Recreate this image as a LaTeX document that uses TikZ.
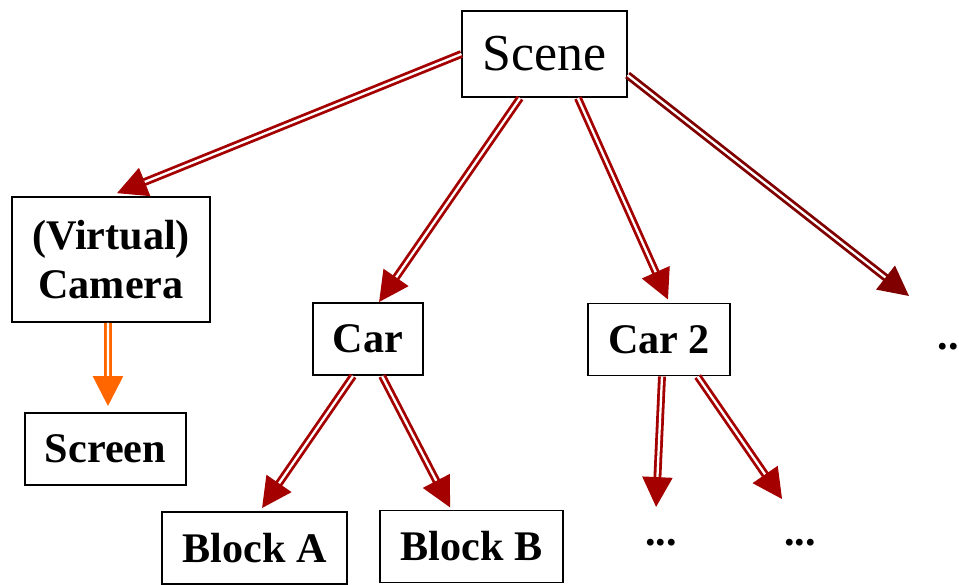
\documentclass[tikz,border=0pt]{standalone}
\usepackage{fontspec}
\setmainfont{Liberation Serif}
\usetikzlibrary{arrows.meta}

\definecolor{linkred}{HTML}{A50000}
\definecolor{linkdark}{HTML}{800000}
\definecolor{linkorange}{HTML}{FF6600}

\tikzset{
	box/.style={draw, line width=1.1pt, inner xsep=11.5pt, minimum height=41pt,
		font=\fontsize{24}{27.8}\selectfont\bfseries},
	dots/.style={inner sep=0pt, font=\fontsize{24}{27.8}\selectfont\bfseries},
	link/.style={draw=linkred, double=white, double distance=1.3pt, line width=1.6pt,
		-{Triangle[length=17pt,width=17pt]}}
}

\begin{document}
\begin{tikzpicture}
	\useasboundingbox (0,0) rectangle (19.18,-11.7);

	% Nodes
	\node[box, minimum height=49pt, font=\fontsize{29.5}{34}\selectfont] (scene) at (10.89,-1.08) {Scene};
	\node[box, minimum height=71pt, align=center] (camera) at (2.22,-5.19) {(Virtual)\\Camera};
	\node[box] (car) at (7.36,-6.78) {Car};
	\node[box] (cartwo) at (13.18,-6.79) {Car 2};
	\node[box] (screen) at (2.11,-8.98) {Screen};
	\node[box] (blocka) at (5.09,-10.96) {Block A};
	\node[box] (blockb) at (9.43,-10.93) {Block B};
	\node[dots] (dotsa) at (13.22,-10.86) {...};
	\node[dots] (dotsb) at (16.0,-10.86) {...};
	\node[dots] (dotsc) at (18.97,-6.94) {..};
	\coordinate (farend) at (18.18,-5.92);

	% Scene links
	\draw[link] (scene.west) -- ([xshift=3.4pt,yshift=1.7pt]camera.north);
	\draw[link] ([xshift=-13.9pt]scene.south) -- ([xshift=6.3pt]car.north);
	\draw[link] ([xshift=19pt]scene.south) -- ([xshift=5.1pt,yshift=1.7pt]cartwo.north);
	\draw[link, draw=linkdark] ([yshift=-12pt]scene.east) -- (farend);

	% Camera output
	\draw[link, draw=linkorange] ([xshift=-1.7pt]camera.south) -- ([xshift=1.4pt,yshift=3.4pt]screen.north);

	% Car parts
	\draw[link] ([xshift=-8.5pt]car.south) -- ([xshift=4.3pt,yshift=1.7pt]blocka.north);
	\draw[link] ([xshift=8pt]car.south) -- ([xshift=-12.2pt,yshift=1.2pt]blockb.north);
	\draw[link] ([xshift=1.7pt]cartwo.south) -- ([xshift=-2.8pt,yshift=20.5pt]dotsa.center);
	\draw[link] ([xshift=22pt]cartwo.south) -- ([xshift=-10.2pt,yshift=25pt]dotsb.center);
\end{tikzpicture}
\end{document}
